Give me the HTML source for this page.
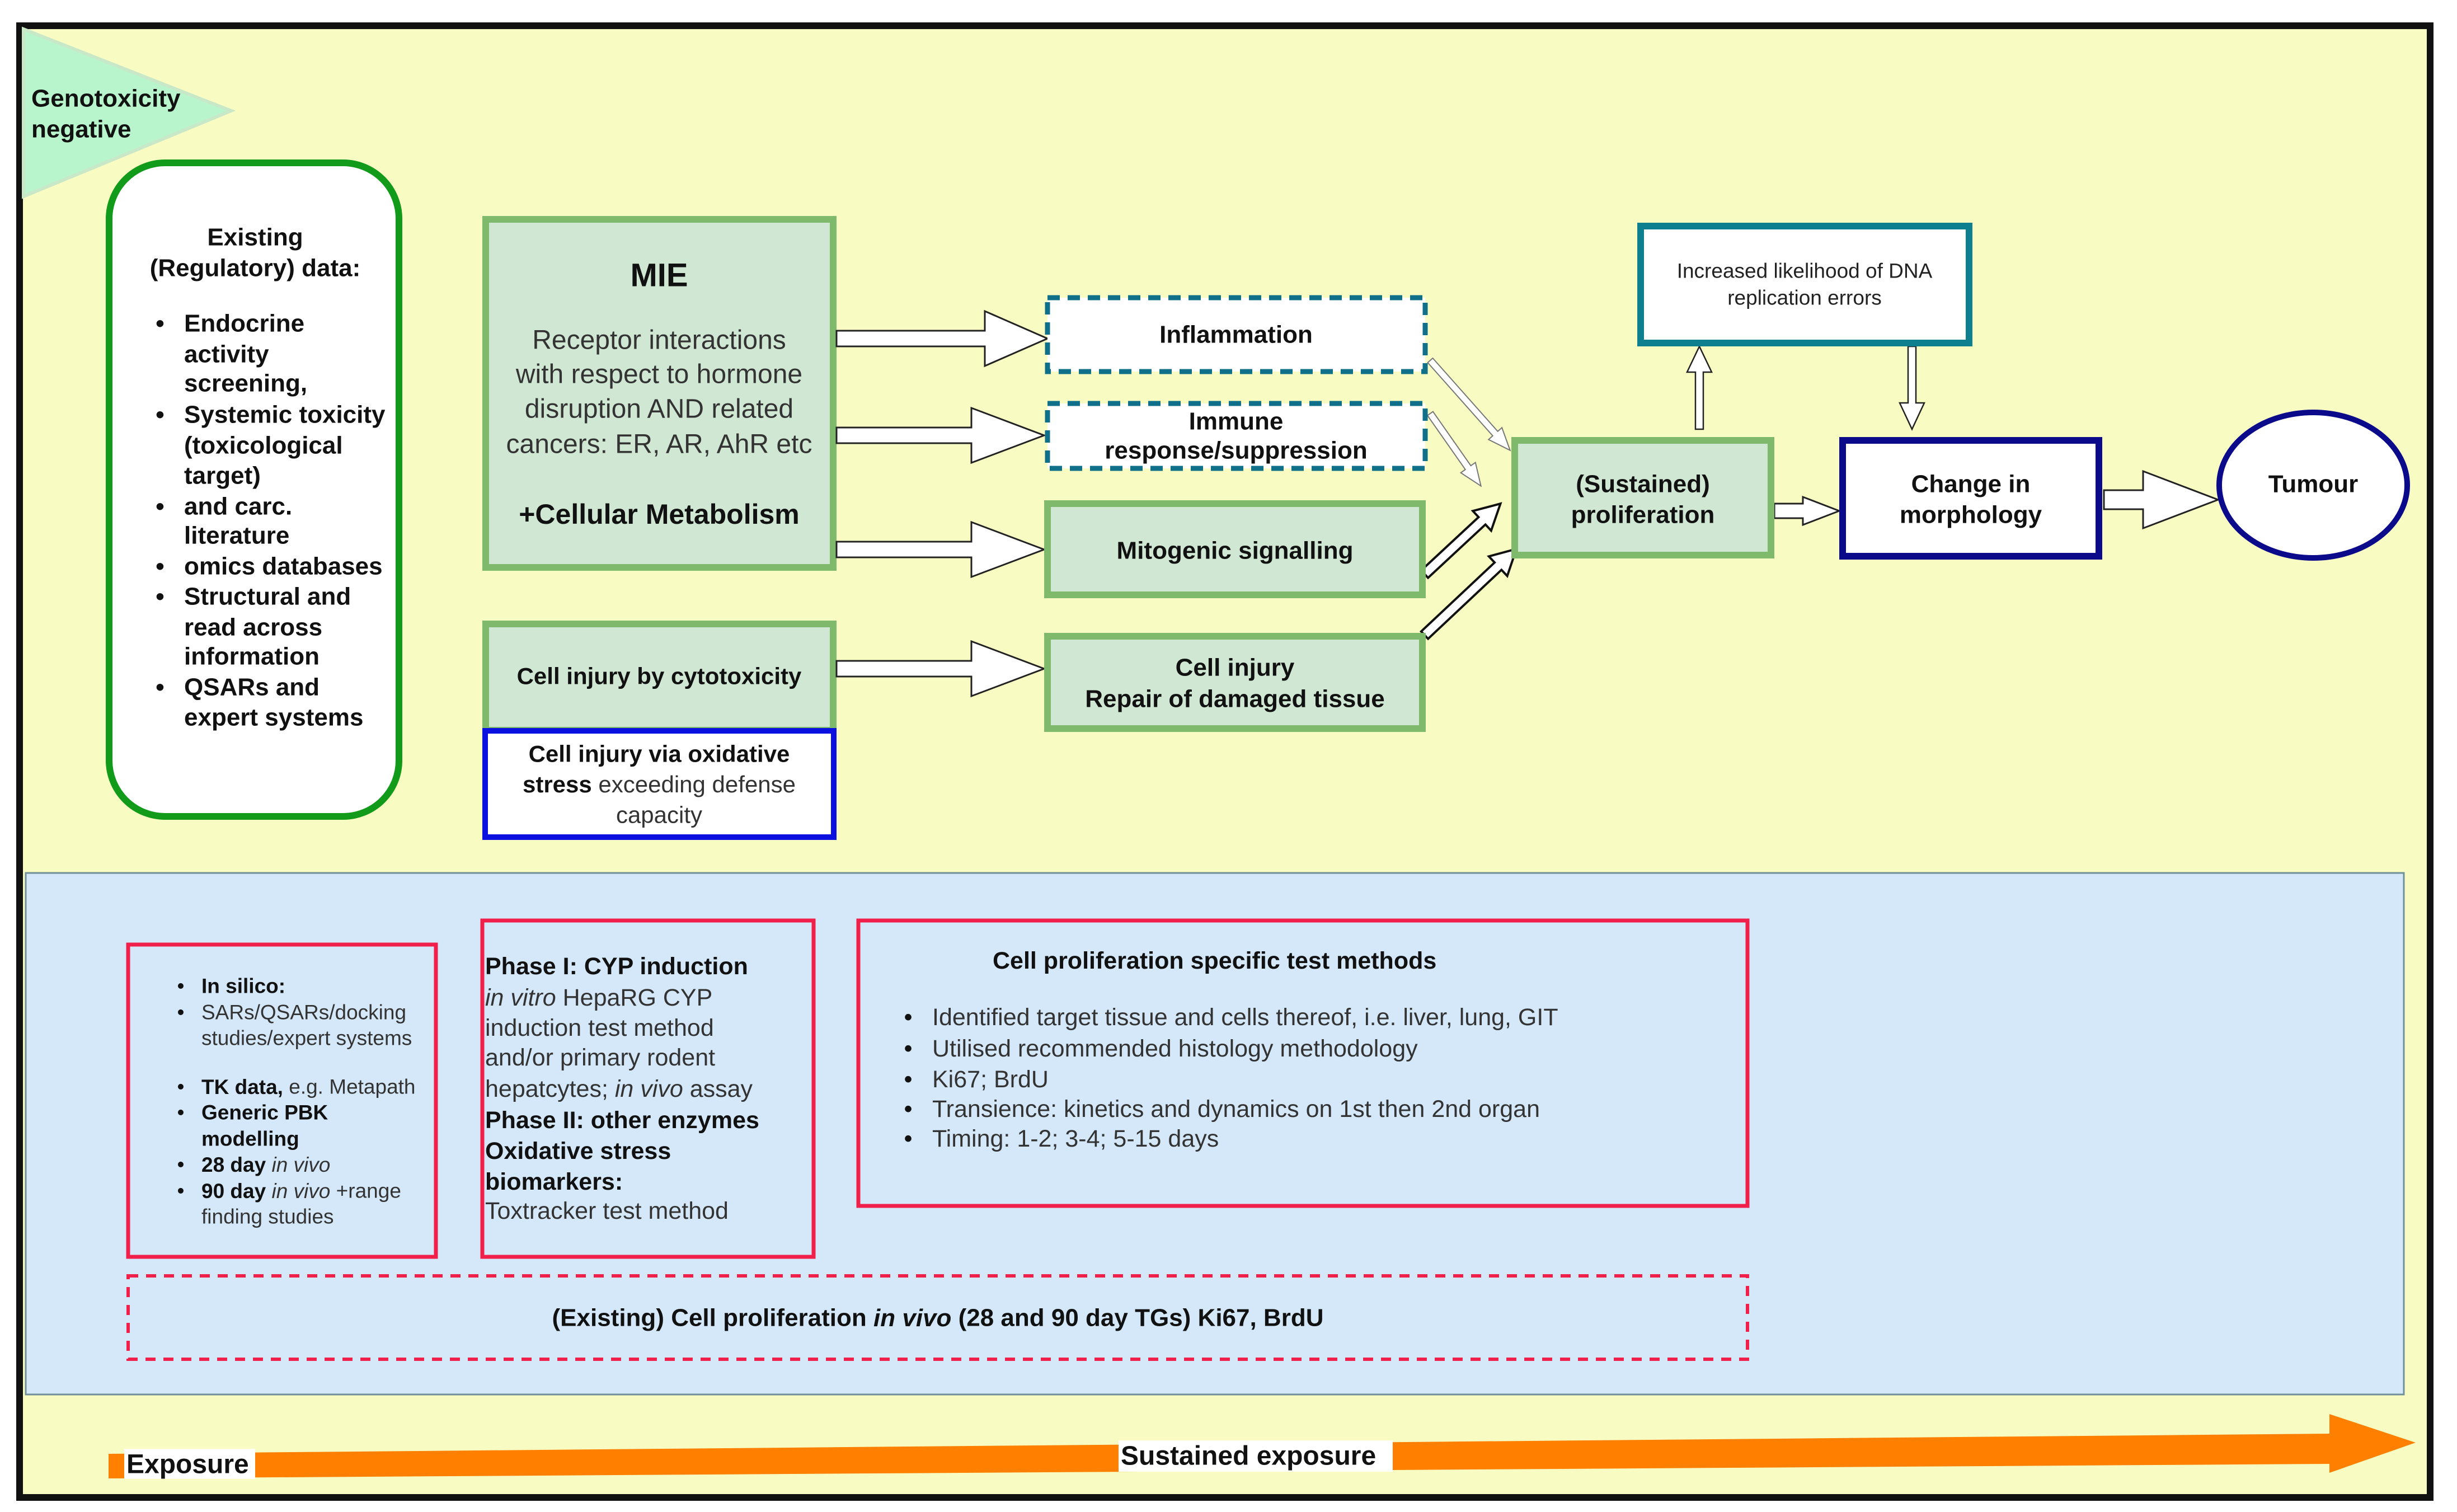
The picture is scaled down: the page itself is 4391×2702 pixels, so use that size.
<!DOCTYPE html>
<html><head><meta charset="utf-8"><style>
html,body{margin:0;padding:0;background:#fff;}
svg{display:block;font-family:"Liberation Sans",Arial,sans-serif;}
.b{font-weight:bold;}
</style></head><body>
<svg width="4391" height="2702" viewBox="0 0 4391 2702" xmlns="http://www.w3.org/2000/svg">
<rect x="0" y="0" width="4391" height="2702" fill="#ffffff"/>
<rect x="35" y="46" width="4308" height="2630" fill="#f9fcc2" stroke="#111" stroke-width="12"/>
<polygon points="42,52 413,198 42,351" fill="#b8f5cc" stroke="#c8e8c8" stroke-width="6"/>
<text x="56" y="176" font-size="44" class="b" fill="#111" dominant-baseline="central">Genotoxicity</text>
<text x="56" y="231" font-size="44" class="b" fill="#111" dominant-baseline="central">negative</text>
<rect x="195" y="291" width="518" height="1168" rx="100" ry="100" fill="#fff" stroke="#129a1a" stroke-width="12"/>
<g font-size="44" class="b" fill="#111" dominant-baseline="central">
<text x="456" y="424" text-anchor="middle">Existing</text>
<text x="456" y="479" text-anchor="middle">(Regulatory) data:</text>
<text x="286" y="578" text-anchor="middle">•</text><text x="329" y="578">Endocrine</text>
<text x="329" y="633">activity</text>
<text x="329" y="685">screening,</text>
<text x="286" y="741" text-anchor="middle">•</text><text x="329" y="741">Systemic toxicity</text>
<text x="329" y="796">(toxicological</text>
<text x="329" y="850">target)</text>
<text x="286" y="905" text-anchor="middle">•</text><text x="329" y="905">and carc.</text>
<text x="329" y="957">literature</text>
<text x="286" y="1012" text-anchor="middle">•</text><text x="329" y="1012">omics databases</text>
<text x="286" y="1066" text-anchor="middle">•</text><text x="329" y="1066">Structural and</text>
<text x="329" y="1121">read across</text>
<text x="329" y="1173">information</text>
<text x="286" y="1228" text-anchor="middle">•</text><text x="329" y="1228">QSARs and</text>
<text x="329" y="1282">expert systems</text>
</g>
<rect x="868" y="392" width="621" height="622" fill="#d0e8d3" stroke="#7fba6c" stroke-width="12"/>
<g dominant-baseline="central" text-anchor="middle">
<text x="1178" y="492" font-size="58" class="b" fill="#111">MIE</text>
<g font-size="48" fill="#333">
<text x="1178" y="608">Receptor interactions</text>
<text x="1178" y="669">with respect to hormone</text>
<text x="1178" y="731">disruption AND related</text>
<text x="1178" y="794">cancers: ER, AR, AhR etc</text>
</g>
<text x="1178" y="919" font-size="50" class="b" fill="#111">+Cellular Metabolism</text>
</g>
<rect x="868" y="1115" width="621" height="190" fill="#d0e8d3" stroke="#7fba6c" stroke-width="12"/>
<text x="1178" y="1208" font-size="42" class="b" fill="#111" text-anchor="middle" dominant-baseline="central">Cell injury by cytotoxicity</text>
<rect x="867" y="1306" width="623" height="190" fill="#fff" stroke="#0a10e0" stroke-width="10"/>
<g font-size="42" fill="#111" text-anchor="middle" dominant-baseline="central">
<text x="1178" y="1347" class="b">Cell injury via oxidative</text>
<text x="1178" y="1401"><tspan class="b">stress</tspan><tspan fill="#333"> exceeding defense</tspan></text>
<text x="1178" y="1456" fill="#333">capacity</text>
</g>
<g fill="#fff" stroke="#222" stroke-width="3">
<polygon points="1495,591 1760,591 1760,556 1872,605 1760,654 1760,619 1495,619"/>
<polygon points="1495,764 1736,764 1736,729 1866,778 1736,827 1736,792 1495,792"/>
<polygon points="1495,968 1736,968 1736,933 1866,982 1736,1031 1736,996 1495,996"/>
<polygon points="1495,1181 1736,1181 1736,1146 1866,1195 1736,1244 1736,1209 1495,1209"/>
<g transform="translate(-18,0)">
<polygon points="3189,900 3240,900 3240,888 3305,913 3240,938 3240,926 3189,926"/>
<polygon points="3778,876 3848,876 3848,842 3982,893 3848,944 3848,910 3778,910"/>
<polygon points="3048,767 3048,665 3033,665 3055,619 3077,665 3062,665 3062,767" stroke-width="2.5"/>
<polygon points="3428,619 3428,720 3413,720 3435,767 3457,720 3442,720 3442,619" stroke-width="2.5"/>
</g>
</g>
<g fill="#fff" stroke="#777" stroke-width="2">
<g transform="translate(2556,644) rotate(48.4)"><polygon points="0,-6 175,-6 175,-16 215,0 175,16 175,6 0,6"/></g>
<g transform="translate(2556,739) rotate(55)"><polygon points="0,-6 118,-6 118,-16 158,0 118,16 118,6 0,6"/></g>
</g>
<g fill="#fff" stroke="#111" stroke-width="4">
<g transform="translate(2546,1026) rotate(-42.9)"><polygon points="0,-9 140,-9 140,-24 185,0 140,24 140,9 0,9"/></g>
<g transform="translate(2546,1135) rotate(-43.2)"><polygon points="0,-9 180,-9 180,-24 225,0 180,24 180,9 0,9"/></g>
</g>
<rect x="1872" y="532" width="675" height="132" fill="#fff" stroke="#10708a" stroke-width="9" stroke-dasharray="22,14"/>
<rect x="1872" y="721" width="675" height="116" fill="#fff" stroke="#10708a" stroke-width="9" stroke-dasharray="22,14"/>
<rect x="1872" y="900" width="670" height="163" fill="#d0e8d3" stroke="#7fba6c" stroke-width="12"/>
<rect x="1872" y="1137" width="670" height="165" fill="#d0e8d3" stroke="#7fba6c" stroke-width="12"/>
<g transform="translate(-18,0)">
<rect x="2725" y="787" width="458" height="205" fill="#d0e8d3" stroke="#7fba6c" stroke-width="12"/>
<rect x="2950" y="404" width="587" height="209" fill="#fff" stroke="#0e7f8f" stroke-width="12"/>
<rect x="3311" y="787" width="458" height="207" fill="#fff" stroke="#0a0a8a" stroke-width="12"/>
<ellipse cx="4152" cy="867" rx="168" ry="130" fill="#fff" stroke="#0a0a8a" stroke-width="10"/>
<g font-size="44" class="b" fill="#111" text-anchor="middle" dominant-baseline="central">
<text x="2954" y="865">(Sustained)</text>
<text x="2954" y="920">proliferation</text>
<text x="3540" y="865">Change in</text>
<text x="3540" y="920">morphology</text>
<text x="4152" y="865">Tumour</text>
</g>
<g font-size="37" fill="#222" text-anchor="middle" dominant-baseline="central">
<text x="3243" y="484">Increased likelihood of DNA</text>
<text x="3243" y="532">replication errors</text>
</g>
</g>
<g font-size="44" class="b" fill="#111" text-anchor="middle" dominant-baseline="central">
<text x="2209" y="598">Inflammation</text>
<text x="2209" y="753">Immune</text>
<text x="2209" y="805">response/suppression</text>
<text x="2207" y="984">Mitogenic signalling</text>
<text x="2207" y="1193">Cell  injury</text>
<text x="2207" y="1249">Repair of damaged tissue</text>
</g>
<rect x="46" y="1560" width="4250" height="932" fill="#d4e8fa" stroke="#6f8f99" stroke-width="3"/>
<g fill="none" stroke="#f0204a" stroke-width="7">
<rect x="229" y="1688" width="550" height="558"/>
<rect x="862" y="1645" width="592" height="601"/>
<rect x="1534" y="1645" width="1589" height="510"/>
<rect x="229" y="2280" width="2894" height="149" stroke-dasharray="18,14" stroke-width="6"/>
</g>
<g font-size="37" fill="#333" dominant-baseline="central">
<text x="323" y="1762" text-anchor="middle" fill="#111">•</text><text x="360" y="1762" class="b" fill="#111">In silico:</text>
<text x="323" y="1809" text-anchor="middle" fill="#111">•</text><text x="360" y="1809">SARs/QSARs/docking</text>
<text x="360" y="1855">studies/expert systems</text>
<text x="323" y="1942" text-anchor="middle" fill="#111">•</text><text x="360" y="1942"><tspan class="b" fill="#111">TK data,</tspan> e.g. Metapath</text>
<text x="323" y="1988" text-anchor="middle" fill="#111">•</text><text x="360" y="1988" class="b" fill="#111">Generic PBK</text>
<text x="360" y="2035" class="b" fill="#111">modelling</text>
<text x="323" y="2081" text-anchor="middle" fill="#111">•</text><text x="360" y="2081"><tspan class="b" fill="#111">28 day</tspan> <tspan font-style="italic">in vivo</tspan></text>
<text x="323" y="2128" text-anchor="middle" fill="#111">•</text><text x="360" y="2128"><tspan class="b" fill="#111">90 day </tspan> <tspan font-style="italic">in vivo</tspan> +range</text>
<text x="360" y="2174">finding studies</text>
</g>
<g font-size="43" fill="#333" dominant-baseline="central">
<text x="867" y="1727" class="b" fill="#111">Phase I: CYP induction</text>
<text x="867" y="1783"><tspan font-style="italic">in vitro</tspan> HepaRG CYP</text>
<text x="867" y="1837">induction test method</text>
<text x="867" y="1890">and/or primary rodent</text>
<text x="867" y="1946">hepatcytes; <tspan font-style="italic">in vivo</tspan> assay</text>
<text x="867" y="2002" class="b" fill="#111">Phase II: other enzymes</text>
<text x="867" y="2057" class="b" fill="#111">Oxidative stress</text>
<text x="867" y="2112" class="b" fill="#111">biomarkers:</text>
<text x="867" y="2164">Toxtracker test method</text>
</g>
<g font-size="43" fill="#333" dominant-baseline="central">
<text x="1774" y="1717" class="b" fill="#111">Cell proliferation specific test methods</text>
<text x="1623" y="1818" text-anchor="middle" fill="#111">•</text><text x="1666" y="1818">Identified target tissue and cells thereof, i.e. liver, lung, GIT</text>
<text x="1623" y="1874" text-anchor="middle" fill="#111">•</text><text x="1666" y="1874">Utilised recommended histology methodology</text>
<text x="1623" y="1929" text-anchor="middle" fill="#111">•</text><text x="1666" y="1929">Ki67; BrdU</text>
<text x="1623" y="1982" text-anchor="middle" fill="#111">•</text><text x="1666" y="1982">Transience: kinetics and dynamics on 1st then 2nd organ</text>
<text x="1623" y="2035" text-anchor="middle" fill="#111">•</text><text x="1666" y="2035">Timing: 1-2; 3-4; 5-15 days</text>
</g>
<text x="1676" y="2355" font-size="44" class="b" fill="#111" text-anchor="middle" dominant-baseline="central">(Existing) Cell proliferation <tspan font-style="italic">in vivo</tspan> (28 and 90 day TGs) Ki67, BrdU</text>
<polygon points="194,2598 4163,2562 4163,2527 4317,2578 4163,2632 4163,2616 194,2642" fill="#ff8000"/>
<rect x="222" y="2589" width="234" height="54" fill="#fff"/>
<text x="226" y="2617" font-size="48" class="b" fill="#111" dominant-baseline="central">Exposure</text>
<rect x="1999" y="2574" width="490" height="56" fill="#fff"/>
<text x="2003" y="2602" font-size="48" class="b" fill="#111" dominant-baseline="central">Sustained exposure</text>
</svg>
</body></html>
